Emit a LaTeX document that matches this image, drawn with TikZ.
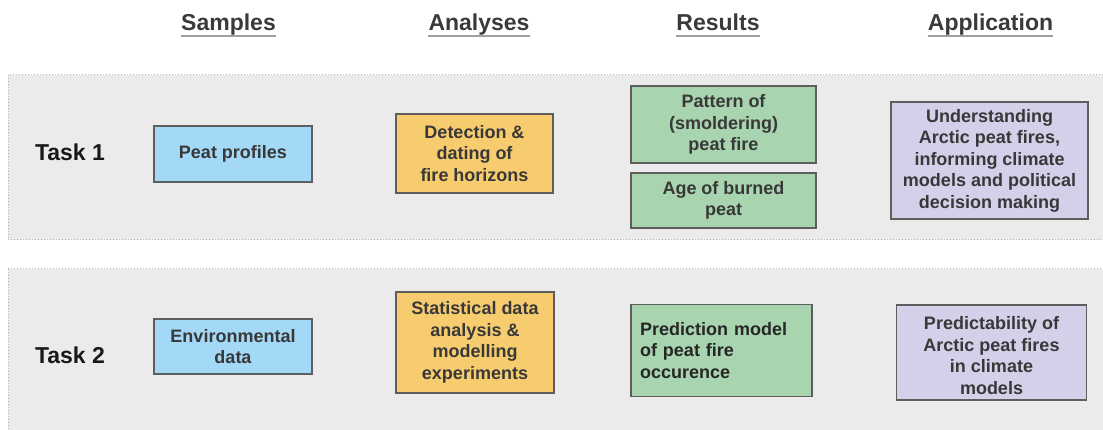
\documentclass[tikz,border=0pt]{standalone}
\usepackage{fontspec}
\setmainfont{Liberation Sans}
\definecolor{bandgray}{HTML}{EBEBEB}
\definecolor{banddot}{HTML}{B5B5B5}
\definecolor{sampleblue}{HTML}{A3D8F6}
\definecolor{analysisorange}{HTML}{F7CC6E}
\definecolor{resultgreen}{HTML}{A8D5AF}
\definecolor{applpurple}{HTML}{D4D0EA}
\definecolor{boxborder}{HTML}{5E5E5E}
\definecolor{textgray}{HTML}{383838}
\definecolor{headgray}{HTML}{3A3A3A}
\definecolor{ulgray}{HTML}{A0A0A0}
\newcommand\boxfont{\fontsize{18}{21.5}\selectfont\bfseries}
\newcommand\taskfont{\fontsize{23}{27}\selectfont\bfseries}
\newcommand\headfont{\fontsize{23}{27}\selectfont\bfseries}
\tikzset{
  band/.style={fill=bandgray, draw=banddot, dotted, line width=1pt},
  box/.style={draw=boxborder, line width=1.2pt, align=center, font=\boxfont, text=textgray, inner sep=0pt},
  tasklabel/.style={font=\taskfont, text=black!90, inner sep=0pt},
  header/.style={font=\headfont, text=headgray, inner sep=0pt, anchor=base},
  underl/.style={draw=ulgray, line width=1.8pt}
}
\begin{document}
\begin{tikzpicture}[x=1pt,y=-1pt]
\useasboundingbox (0,0) rectangle (1103,430);
\clip (0,0) rectangle (1103,430);
% bands
\path[band] (8,75) rectangle (1115,240);
\path[band] (8,269) rectangle (1115,445);
% headers
\node[header] (h1) at (228.5,31) {Samples};
\node[header] (h2) at (479,31) {Analyses};
\node[header] (h3) at (718,31) {Results};
\node[header] (h4) at (990.5,31) {Application};
\foreach \h in {h1,h2,h3,h4}{
  \draw[underl] ([yshift=-5]\h.base west) -- ([yshift=-5]\h.base east);
}
% task labels
\node[tasklabel] (t1) at (70,152) {Task 1};
\node[tasklabel] (t2) at (70,355) {Task 2};
% task 1 boxes
\node[box, fill=sampleblue, minimum width=158, minimum height=56] (peat) at (233,154) {Peat profiles};
\node[box, fill=analysisorange, minimum width=157, minimum height=79] (detect) at (474.5,153.5) {Detection \&\\dating of\\fire horizons};
\node[box, fill=resultgreen, minimum width=185, minimum height=77] (pattern) at (723.5,124.5) {Pattern of\\(smoldering)\\peat fire};
\node[box, fill=resultgreen, minimum width=185, minimum height=55] (age) at (723.5,200.5) {Age of burned\\peat};
\node[box, fill=applpurple, minimum width=197, minimum height=117] (underst) at (989.5,160.5) {Understanding\\Arctic peat fires,\\informing climate\\models and political\\decision making};
% task 2 boxes
\node[box, fill=sampleblue, minimum width=158, minimum height=55] (env) at (233,346.5) {Environmental\\data};
\node[box, fill=analysisorange, minimum width=158, minimum height=101] (stat) at (475,342.5) {Statistical data\\analysis \&\\modelling\\experiments};
\node[box, fill=resultgreen, minimum width=181, minimum height=92, text width=163, align=left, text=black!85] (pred) at (721.5,350.5) {Prediction model\\of peat fire\\occurence};
\node[box, fill=applpurple, minimum width=190, minimum height=95] (predict) at (991.5,352.5) {\raisebox{-5pt}[\height][\depth]{\begin{tabular}{@{}c@{}}Predictability of\\Arctic peat fires\\in climate\\models\end{tabular}}};
\end{tikzpicture}
\end{document}
